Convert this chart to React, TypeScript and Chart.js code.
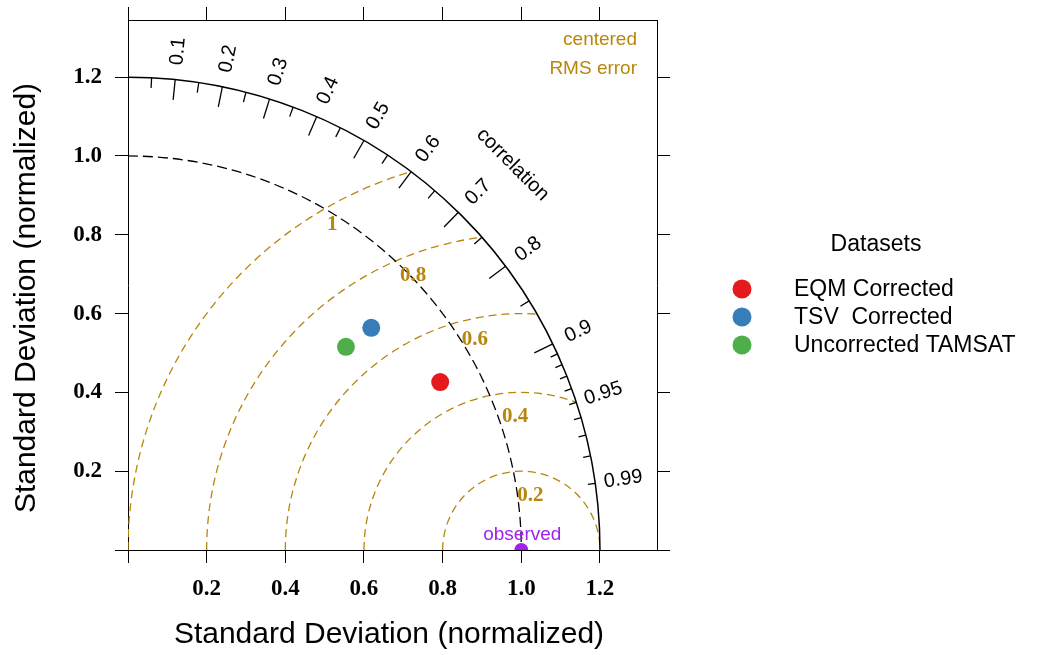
import React, { useEffect, useRef } from 'react';
import { Chart, registerables } from 'chart.js';

Chart.register(...registerables);

// ---- data ----
const AXIS_MAX = 1.345;
const SD_TICKS = [0, 0.2, 0.4, 0.6, 0.8, 1.0, 1.2];

const DATASET_LABELS = ['EQM Corrected', 'TSV  Corrected', 'Uncorrected TAMSAT'];
const DATASET_COLORS = ['#E41A1C', '#377EB8', '#4DAF4A'];
const SD_VALUES = [0.901, 0.837, 0.757];     // normalized standard deviation
const CORR_VALUES = [0.881, 0.739, 0.732];   // correlation

const OBS_LABEL = 'observed';
const OBS_SD = 1.0;
const OBS_CORR = 1.0;

const SD_ARC = 1.2;
const REF_ARC = 1.0;

const CORR_MAJOR = [0.1, 0.2, 0.3, 0.4, 0.5, 0.6, 0.7, 0.8, 0.9];
const CORR_MINOR = [0.05, 0.15, 0.25, 0.35, 0.45, 0.55, 0.65, 0.75, 0.85];
const CORR_FINE = [0.91, 0.92, 0.93, 0.94, 0.95, 0.96, 0.97, 0.98, 0.99];
const CORR_LABELS = ['0.1', '0.2', '0.3', '0.4', '0.5', '0.6', '0.7', '0.8', '0.9', '0.95', '0.99'];

const RMS_LEVELS = [0.2, 0.4, 0.6, 0.8, 1.0];
const RMS_LABELS = ['0.2', '0.4', '0.6', '0.8', '1'];
const RMS_LABEL_X = [1.023, 0.984, 0.882, 0.725, 0.519];
const RMS_LABEL_Y = [0.137, 0.339, 0.534, 0.697, 0.826];

const AXIS_TITLE = 'Standard Deviation (normalized)';
const LEGEND_TITLE = 'Datasets';

// ---- styles ----
const GOLD = '#B8860B';
const PURPLE = '#A020F0';
const SANS = 'Liberation Sans';
const SERIF = 'Liberation Serif';

const polar = (sd: number, r: number) => ({ x: sd * r, y: sd * Math.sqrt(Math.max(0, 1 - r * r)) });

const taylorPlugin = {
  id: 'taylor',
  beforeDatasetsDraw(chart: any) {
    const ctx = chart.ctx as CanvasRenderingContext2D;
    const xs = chart.scales.x;
    const ys = chart.scales.y;
    const ox = xs.getPixelForValue(0);
    const oy = ys.getPixelForValue(0);
    const kx = xs.getPixelForValue(1) - ox;
    const ky = oy - ys.getPixelForValue(1);
    const P = (x: number, y: number) => [ox + x * kx, oy - y * ky];

    ctx.save();
    // RMS contours, clipped to the 1.2 sector
    ctx.save();
    ctx.beginPath();
    ctx.moveTo(ox, oy);
    ctx.ellipse(ox, oy, SD_ARC * kx, SD_ARC * ky, 0, -Math.PI / 2, 0);
    ctx.closePath();
    ctx.clip();
    ctx.strokeStyle = GOLD;
    ctx.lineWidth = 1.3;
    ctx.setLineDash([8, 5]);
    const [cx, cy] = P(OBS_SD * OBS_CORR, 0);
    RMS_LEVELS.forEach((lv) => {
      ctx.beginPath();
      ctx.ellipse(cx, cy, lv * kx, lv * ky, 0, Math.PI, 2 * Math.PI);
      ctx.stroke();
    });
    ctx.restore();

    // reference (observed sd) arc, dashed
    ctx.strokeStyle = '#000';
    ctx.lineWidth = 1.3;
    ctx.setLineDash([10, 5]);
    ctx.beginPath();
    ctx.ellipse(ox, oy, REF_ARC * kx, REF_ARC * ky, 0, -Math.PI / 2, 0);
    ctx.stroke();

    // outer arc
    ctx.setLineDash([]);
    ctx.lineWidth = 1.5;
    ctx.beginPath();
    ctx.ellipse(ox, oy, SD_ARC * kx, SD_ARC * ky, 0, -Math.PI / 2, 0);
    ctx.stroke();

    // correlation ticks
    ctx.lineWidth = 1.3;
    const tick = (r: number, len: number) => {
      const c = r, s = Math.sqrt(1 - r * r);
      const [x1, y1] = P(SD_ARC * c, SD_ARC * s);
      const [x2, y2] = P((SD_ARC - len) * c, (SD_ARC - len) * s);
      ctx.beginPath();
      ctx.moveTo(x1, y1);
      ctx.lineTo(x2, y2);
      ctx.stroke();
    };
    CORR_MAJOR.forEach((r) => tick(r, 0.052));
    CORR_MINOR.forEach((r) => tick(r, 0.026));
    CORR_FINE.forEach((r) => tick(r, 0.019));

    // correlation labels
    ctx.fillStyle = '#000';
    ctx.font = `20px "${SANS}"`;
    ctx.textAlign = 'center';
    ctx.textBaseline = 'middle';
    CORR_LABELS.forEach((lab) => {
      const r = parseFloat(lab);
      const th = Math.acos(r);
      const [px, py] = P(1.272 * Math.cos(th), 1.272 * Math.sin(th));
      ctx.save();
      ctx.translate(px, py);
      ctx.rotate(-th);
      ctx.fillText(lab, 0, 0);
      ctx.restore();
    });
    {
      const th = Math.PI / 4;
      const [px, py] = P(1.383 * Math.cos(th), 1.383 * Math.sin(th));
      ctx.save();
      ctx.translate(px, py);
      ctx.rotate(Math.PI / 2 - th);
      ctx.fillText('correlation', 0, 0);
      ctx.restore();
    }

    // RMS labels
    ctx.fillStyle = GOLD;
    ctx.font = `bold 21px "${SERIF}"`;
    RMS_LABELS.forEach((lab, i) => {
      const [px, py] = P(RMS_LABEL_X[i], RMS_LABEL_Y[i]);
      ctx.fillText(lab, px, py);
    });

    // centered RMS error
    ctx.font = `19px "${SANS}"`;
    ctx.textAlign = 'right';
    ctx.fillText('centered', 637, 40);
    ctx.fillText('RMS error', 637, 69);
    ctx.restore();
  },
  afterDatasetsDraw(chart: any) {
    const ctx = chart.ctx as CanvasRenderingContext2D;
    const xs = chart.scales.x;
    const ys = chart.scales.y;
    const o = polar(OBS_SD, OBS_CORR);
    ctx.save();
    ctx.fillStyle = PURPLE;
    ctx.font = `19px "${SANS}"`;
    ctx.textAlign = 'center';
    ctx.textBaseline = 'middle';
    ctx.fillText(OBS_LABEL, xs.getPixelForValue(o.x) + 1, ys.getPixelForValue(o.y) - 15);
    ctx.restore();
  },
  afterDraw(chart: any) {
    const ctx = chart.ctx as CanvasRenderingContext2D;
    ctx.save();
    ctx.fillStyle = '#000';
    // axis titles
    ctx.font = `30px "${SANS}"`;
    ctx.textAlign = 'center';
    ctx.textBaseline = 'alphabetic';
    ctx.fillText(AXIS_TITLE, 389, 643);
    ctx.save();
    ctx.translate(35, 298);
    ctx.rotate(-Math.PI / 2);
    ctx.fillText(AXIS_TITLE, 0, 0);
    ctx.restore();

    // legend
    ctx.font = `23px "${SANS}"`;
    ctx.textBaseline = 'middle';
    ctx.fillText(LEGEND_TITLE, 876, 245);
    ctx.textAlign = 'left';
    DATASET_LABELS.forEach((lab, i) => {
      const y = 289 + i * 28;
      ctx.fillStyle = DATASET_COLORS[i];
      ctx.beginPath();
      ctx.arc(742, y, 9.5, 0, Math.PI * 2);
      ctx.fill();
      ctx.fillStyle = '#000';
      ctx.fillText(lab, 794, y + 1);
    });
    ctx.restore();
  },
};

const setTicks = (s: any) => {
  s.ticks = SD_TICKS.map((v) => ({ value: v }));
};

const tickFont = { family: SERIF, size: 23, weight: 'bold' as const };
const gridOpts = { drawOnChartArea: false, drawTicks: true, tickLength: 13, color: '#000', lineWidth: 1 };
const borderOpts = { display: true, color: '#000', width: 1 };

const fitH = (h: number) => (s: any) => {
  s.height = h;
  s.paddingLeft = 0;
  s.paddingRight = 0;
  s.paddingTop = 0;
  s.paddingBottom = 0;
};
const fitV = (w: number) => (s: any) => {
  s.width = w;
  s.paddingLeft = 0;
  s.paddingRight = 0;
  s.paddingTop = 0;
  s.paddingBottom = 0;
};

export default function App() {
  const ref = useRef<HTMLCanvasElement | null>(null);
  useEffect(() => {
    if (!ref.current) return;
    const datasets: any[] = DATASET_LABELS.map((label, i) => ({
      label,
      data: [polar(SD_VALUES[i], CORR_VALUES[i])],
      backgroundColor: DATASET_COLORS[i],
      borderColor: DATASET_COLORS[i],
      pointRadius: 9,
      pointBorderWidth: 0,
    }));
    datasets.push({
      label: OBS_LABEL,
      data: [polar(OBS_SD, OBS_CORR)],
      backgroundColor: PURPLE,
      borderColor: PURPLE,
      pointRadius: 7,
      pointBorderWidth: 0,
      clip: 0,
    });
    const chart = new Chart(ref.current, {
      type: 'scatter',
      data: { datasets },
      plugins: [taylorPlugin],
      options: {
        animation: false,
        responsive: false,
        devicePixelRatio: 1,
        layout: { padding: 0 },
        plugins: { legend: { display: false }, tooltip: { enabled: false }, title: { display: false } },
        scales: {
          x: {
            type: 'linear', axis: 'x', position: 'bottom', min: 0, max: AXIS_MAX,
            afterBuildTicks: setTicks,
            ticks: {
              autoSkip: false, maxRotation: 0, color: '#000', font: tickFont, padding: 12,
              callback: (v: any) => (v === 0 ? '' : Number(v).toFixed(1)),
            },
            grid: gridOpts, border: borderOpts,
            afterFit: fitH(105),
          },
          x2: {
            type: 'linear', axis: 'x', position: 'top', min: 0, max: AXIS_MAX,
            afterBuildTicks: setTicks,
            ticks: { display: false },
            grid: gridOpts, border: borderOpts,
            afterFit: fitH(20),
          },
          y: {
            type: 'linear', axis: 'y', position: 'left', min: 0, max: AXIS_MAX,
            afterBuildTicks: setTicks,
            ticks: {
              autoSkip: false, color: '#000', font: tickFont, padding: 13,
              callback: (v: any) => (v === 0 ? '' : Number(v).toFixed(1)),
            },
            grid: gridOpts, border: borderOpts,
            afterFit: fitV(128),
          },
          y2: {
            type: 'linear', axis: 'y', position: 'right', min: 0, max: AXIS_MAX,
            afterBuildTicks: setTicks,
            ticks: { display: false },
            grid: gridOpts, border: borderOpts,
            afterFit: fitV(381),
          },
        },
      } as any,
    });
    return () => chart.destroy();
  }, []);
  return (
    <div style={{ position: 'absolute', left: 0, top: 0, width: 1038, height: 655, background: '#fff' }}>
      <canvas ref={ref} width={1038} height={655} style={{ width: 1038, height: 655, display: 'block' }} />
    </div>
  );
}
